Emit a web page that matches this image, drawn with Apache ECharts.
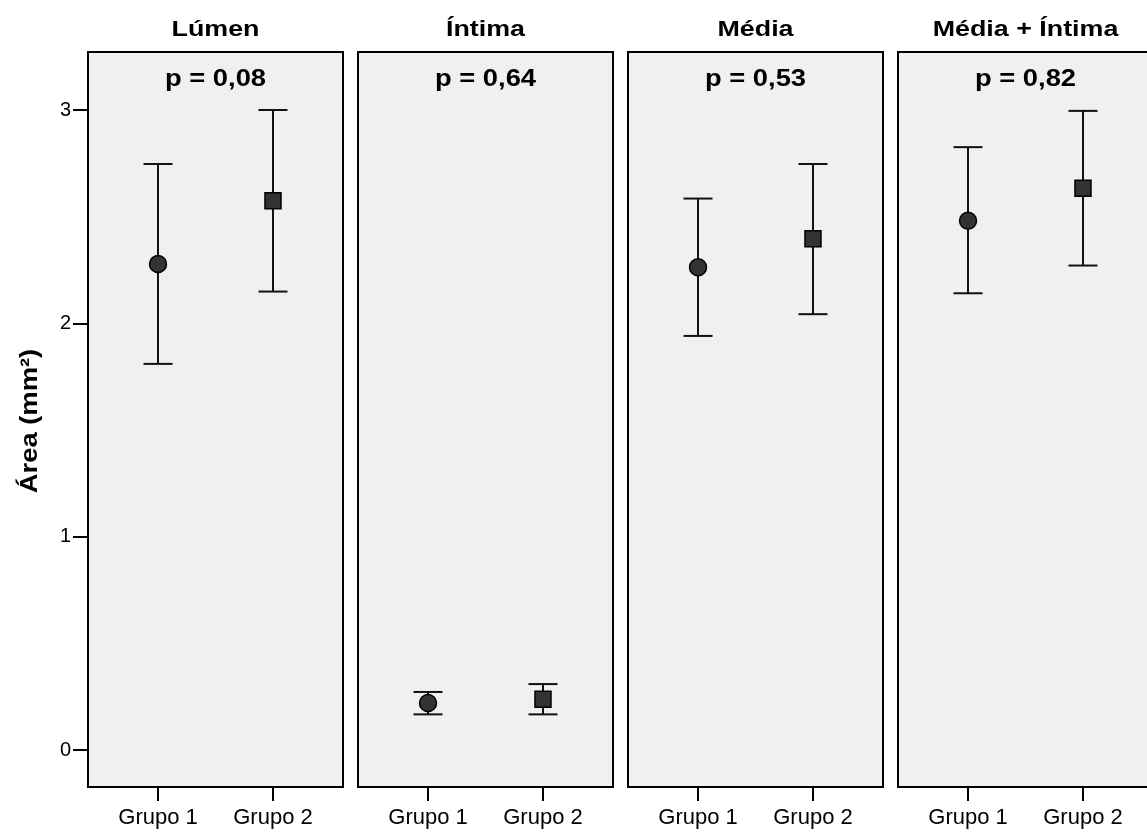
<!DOCTYPE html>
<html>
<head>
<meta charset="utf-8">
<title>Área por grupo</title>
<script src="https://cdn.jsdelivr.net/npm/echarts@6/dist/echarts.min.js"></script>
<style>
  html, body { margin: 0; padding: 0; background: #ffffff; overflow: hidden; }
  /* o último painel é cortado na borda direita, como na figura original */
  #chart { width: 1160px; height: 832px; }
</style>
</head>
<body>
<div id="chart"></div>
<script>
  // dados (média e IC 95%)
  const categories = ['Grupo 1', 'Grupo 2'];
  const panelNames = ['Lúmen', 'Íntima', 'Média', 'Média + Íntima'];
  const pLabels = ['p = 0,08', 'p = 0,64', 'p = 0,53', 'p = 0,82'];
  const meanValues = [[2.278, 2.575], [0.220, 0.238], [2.263, 2.396], [2.481, 2.633]];
  const lowerValues = [[1.810, 2.149], [0.167, 0.167], [1.941, 2.043], [2.141, 2.271]];
  const upperValues = [[2.747, 3.000], [0.272, 0.309], [2.585, 2.747], [2.826, 2.996]];
  const yTicks = [0, 1, 2, 3];
  const groupSymbols = ['circle', 'rect'];

  const FONT = '"Liberation Sans", Arial, sans-serif';
  const gridLefts = [88, 358, 628, 898];
  const gridWidth = 255;
  const gridTop = 52;
  const gridHeight = 735;

  let myChart = echarts.init(document.getElementById('chart'));

  let grids = [], xAxes = [], yAxes = [], series = [], texts = [];

  panelNames.forEach(function (name, i) {
    grids.push({
      left: gridLefts[i], top: gridTop, width: gridWidth, height: gridHeight,
      show: true, backgroundColor: '#f0f0f0', borderColor: '#000', borderWidth: 2
    });
    xAxes.push({
      gridIndex: i, type: 'value', min: -0.609, max: 1.609,
      splitLine: {show: false},
      axisLine: {show: true, onZero: false, lineStyle: {color: '#000', width: 2}},
      axisTick: {show: true, customValues: [0, 1], length: 14, lineStyle: {color: '#000', width: 2}},
      axisLabel: {
        customValues: [0, 1], margin: 20, color: '#000', fontFamily: FONT, fontSize: 22,
        formatter: function (v) { return categories[Math.round(v)]; }
      }
    });
    let first = i === 0;
    yAxes.push({
      gridIndex: i, type: 'value', min: -0.1735, max: 3.272,
      splitLine: {show: false},
      axisLine: {show: true, onZero: false, lineStyle: {color: '#000', width: 2}},
      axisTick: {show: first, customValues: yTicks, length: 15, lineStyle: {color: '#000', width: 2}},
      axisLabel: {
        show: first, customValues: yTicks, margin: 17, color: '#000', fontFamily: FONT, fontSize: 20
      }
    });

    let barData = categories.map(function (c, g) {
      return [g, lowerValues[i][g], upperValues[i][g]];
    });
    series.push({
      type: 'custom', xAxisIndex: i, yAxisIndex: i, z: 2,
      data: barData,
      renderItem: function (params, api) {
        let lo = api.coord([api.value(0), api.value(1)]);
        let hi = api.coord([api.value(0), api.value(2)]);
        let hw = 14.5;
        let st = {stroke: '#111', lineWidth: 2};
        return {
          type: 'group',
          children: [
            {type: 'line', shape: {x1: lo[0], y1: lo[1], x2: hi[0], y2: hi[1]}, style: st},
            {type: 'line', shape: {x1: lo[0] - hw, y1: lo[1], x2: lo[0] + hw, y2: lo[1]}, style: st},
            {type: 'line', shape: {x1: hi[0] - hw, y1: hi[1], x2: hi[0] + hw, y2: hi[1]}, style: st}
          ]
        };
      }
    });
    series.push({
      type: 'scatter', xAxisIndex: i, yAxisIndex: i, z: 3,
      data: categories.map(function (c, g) {
        return {value: [g, meanValues[i][g]], symbol: groupSymbols[g], symbolSize: g === 0 ? 17 : 16};
      }),
      itemStyle: {color: '#333333', borderColor: '#000', borderWidth: 1.5, opacity: 1}
    });

    let cx = gridLefts[i] + gridWidth / 2;
    texts.push({
      type: 'text', x: cx, y: 30, scaleX: 1.22,
      style: {text: name, textAlign: 'center', textVerticalAlign: 'middle',
        font: 'bold 22px ' + FONT, fill: '#000'}
    });
    texts.push({
      type: 'text', x: cx, y: 79, scaleX: 1.14,
      style: {text: pLabels[i], textAlign: 'center', textVerticalAlign: 'middle',
        font: 'bold 24px ' + FONT, fill: '#000'}
    });
  });

  // título do eixo y
  texts.push({
    type: 'text', x: 30, y: 421, rotation: Math.PI / 2, scaleX: 1.14,
    style: {text: 'Área (mm²)', textAlign: 'center', textVerticalAlign: 'middle',
      font: 'bold 24px ' + FONT, fill: '#000'}
  });

  myChart.setOption({
    backgroundColor: '#ffffff',
    animation: false,
    grid: grids,
    xAxis: xAxes,
    yAxis: yAxes,
    series: series,
    graphic: texts
  });
</script>
</body>
</html>
